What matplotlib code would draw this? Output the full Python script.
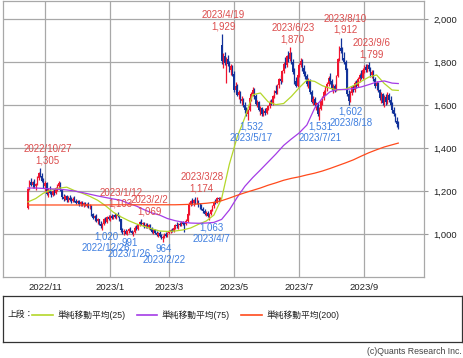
import matplotlib
matplotlib.use('Agg')
import matplotlib.pyplot as plt
import numpy as np
import pandas as pd

# 日足 2022/10/17 - 2023/10/4 (東証の休場日は除く)
holidays = ['2022-11-03', '2022-11-23', '2023-01-02', '2023-01-03', '2023-01-09',
            '2023-02-23', '2023-03-21', '2023-05-03', '2023-05-04', '2023-05-05',
            '2023-07-17', '2023-08-11', '2023-09-18']
dates = pd.bdate_range('2022-10-17', '2023-10-04', freq='C', holidays=holidays)

opens = [1121, 1215, 1240, 1228, 1240, 1222, 1235, 1262, 1280, 1270, 1248,
         1225, 1235, 1190, 1205, 1192, 1182, 1198, 1190, 1212, 1222, 1236, 1205, 1172, 1165, 1176, 1160, 1168, 1160, 1152, 1165,
         1155, 1145, 1152, 1138, 1148, 1135, 1142, 1132, 1140, 1128, 1130, 1092, 1075, 1085, 1060, 1068, 1048, 1038, 1045, 1068, 1058, 1078,
         1072, 1082, 1075, 1088, 1080, 1092, 1085, 1068, 1018, 1008, 1015, 1002, 1012, 1025, 1012, 1005, 1010, 1030, 1025,
         1045, 1055, 1048, 1052, 1036, 1044, 1034, 1040, 1026, 1010, 1018, 1004, 996, 1005, 990, 982, 988, 998, 992,
         1004, 1012, 1020, 1015, 1030, 1040, 1035, 1046, 1042, 1055, 1048, 1045, 1062, 1095, 1140, 1152, 1142, 1158, 1148, 1150, 1132, 1128,
         1115, 1105, 1095, 1100, 1085, 1092, 1112, 1128, 1150, 1145, 1168, 1165, 1880, 1805, 1830, 1795, 1815, 1790, 1765, 1780,
         1745, 1670, 1690, 1648, 1660, 1618, 1630, 1598, 1575, 1560, 1578, 1632, 1650, 1672, 1640, 1605, 1615, 1578, 1585, 1558,
         1570, 1565, 1585, 1595, 1615, 1605, 1640, 1665, 1658, 1695, 1720, 1712, 1760, 1792, 1785, 1828, 1812, 1842, 1800, 1755, 1712, 1690,
         1740, 1788, 1805, 1770, 1745, 1735, 1700, 1718, 1660, 1615, 1630, 1600, 1608, 1558, 1582, 1618, 1635, 1660, 1678, 1698,
         1728, 1710, 1680, 1690, 1668, 1735, 1812, 1865, 1850, 1820, 1800, 1765, 1650, 1618, 1658, 1682, 1668, 1702, 1690, 1722, 1740, 1728,
         1765, 1778, 1762, 1785, 1768, 1742, 1755, 1720, 1690, 1702, 1668, 1635, 1650, 1608, 1638, 1612, 1648, 1625, 1600, 1575,
         1560, 1528, 1510]
highs = [1216, 1250, 1262, 1248, 1255, 1238, 1270, 1290, 1305, 1282, 1260,
         1245, 1240, 1215, 1222, 1200, 1205, 1210, 1218, 1232, 1245, 1240, 1210, 1185, 1182, 1180, 1175, 1180, 1172, 1170, 1175,
         1165, 1160, 1158, 1152, 1155, 1148, 1150, 1145, 1148, 1138, 1135, 1100, 1090, 1092, 1075, 1072, 1060, 1050, 1075, 1080, 1082, 1090,
         1088, 1095, 1090, 1098, 1095, 1103, 1090, 1072, 1030, 1022, 1025, 1018, 1030, 1032, 1020, 1015, 1035, 1042, 1048,
         1060, 1069, 1058, 1056, 1050, 1052, 1045, 1046, 1032, 1025, 1022, 1015, 1010, 1012, 1002, 995, 1005, 1010, 1008,
         1018, 1025, 1030, 1035, 1045, 1056, 1050, 1058, 1060, 1062, 1055, 1068, 1100, 1148, 1160, 1168, 1165, 1170, 1174, 1158, 1145, 1140,
         1126, 1115, 1108, 1106, 1098, 1118, 1135, 1155, 1165, 1172, 1172, 1170, 1929, 1840, 1845, 1825, 1835, 1805, 1790, 1785,
         1760, 1705, 1700, 1672, 1665, 1640, 1635, 1615, 1590, 1582, 1640, 1660, 1682, 1679, 1650, 1625, 1620, 1595, 1590, 1580,
         1588, 1592, 1600, 1622, 1630, 1645, 1672, 1695, 1700, 1728, 1742, 1765, 1800, 1822, 1835, 1850, 1870, 1848, 1812, 1770, 1730, 1745,
         1795, 1819, 1812, 1785, 1760, 1745, 1728, 1722, 1670, 1640, 1638, 1615, 1612, 1590, 1625, 1640, 1668, 1688, 1705, 1735,
         1750, 1720, 1698, 1700, 1742, 1820, 1875, 1912, 1872, 1845, 1810, 1770, 1672, 1665, 1690, 1695, 1710, 1716, 1730, 1748, 1762, 1772,
         1785, 1792, 1790, 1799, 1775, 1765, 1762, 1730, 1712, 1708, 1675, 1660, 1655, 1645, 1650, 1660, 1658, 1640, 1612, 1590,
         1565, 1545, 1525]
lows = [1115, 1205, 1222, 1212, 1215, 1205, 1230, 1250, 1265, 1240, 1215,
        1200, 1180, 1172, 1185, 1170, 1175, 1182, 1185, 1200, 1215, 1200, 1165, 1155, 1158, 1150, 1148, 1155, 1145, 1148, 1150,
        1138, 1140, 1132, 1130, 1128, 1125, 1128, 1126, 1122, 1115, 1085, 1068, 1062, 1055, 1045, 1040, 1030, 1020, 1040, 1050, 1052, 1065,
        1062, 1070, 1068, 1075, 1072, 1078, 1062, 1010, 1000, 995, 998, 996, 1005, 1008, 998, 991, 1005, 1018, 1020,
        1038, 1040, 1035, 1030, 1028, 1030, 1025, 1020, 1005, 1002, 998, 992, 988, 985, 975, 964, 980, 985, 986,
        998, 1005, 1008, 1010, 1022, 1030, 1025, 1035, 1038, 1040, 1010, 1040, 1058, 1090, 1128, 1135, 1132, 1140, 1138, 1125, 1118, 1110,
        1098, 1090, 1082, 1078, 1063, 1088, 1105, 1120, 1140, 1142, 1150, 1155, 1790, 1770, 1785, 1702, 1780, 1755, 1742, 1735,
        1660, 1650, 1640, 1630, 1610, 1600, 1590, 1565, 1548, 1532, 1570, 1620, 1640, 1630, 1598, 1590, 1570, 1555, 1548, 1550,
        1555, 1560, 1575, 1588, 1598, 1600, 1632, 1650, 1652, 1680, 1700, 1708, 1750, 1770, 1778, 1800, 1805, 1790, 1745, 1700, 1684, 1685,
        1730, 1775, 1760, 1735, 1722, 1690, 1680, 1650, 1608, 1598, 1590, 1575, 1550, 1531, 1575, 1600, 1625, 1648, 1665, 1690,
        1700, 1672, 1658, 1660, 1665, 1730, 1805, 1840, 1810, 1790, 1755, 1640, 1602, 1612, 1645, 1660, 1662, 1680, 1685, 1705, 1720, 1722,
        1750, 1755, 1752, 1760, 1730, 1725, 1712, 1680, 1672, 1660, 1625, 1610, 1598, 1590, 1600, 1605, 1615, 1590, 1565, 1548,
        1520, 1500, 1488]
closes = [1210, 1240, 1228, 1242, 1220, 1232, 1262, 1285, 1272, 1248, 1222,
          1238, 1188, 1205, 1192, 1180, 1198, 1188, 1212, 1225, 1236, 1205, 1170, 1162, 1176, 1158, 1168, 1160, 1152, 1165, 1155,
          1145, 1152, 1138, 1148, 1135, 1142, 1132, 1140, 1128, 1132, 1092, 1075, 1085, 1060, 1068, 1048, 1038, 1045, 1070, 1058, 1078, 1072,
          1082, 1075, 1088, 1080, 1092, 1085, 1068, 1018, 1008, 1015, 1002, 1012, 1025, 1012, 1005, 1010, 1030, 1025, 1045,
          1055, 1048, 1052, 1036, 1044, 1034, 1040, 1026, 1010, 1018, 1004, 996, 1005, 990, 982, 988, 998, 992, 1004,
          1012, 1020, 1015, 1030, 1040, 1035, 1046, 1042, 1055, 1048, 1045, 1062, 1095, 1140, 1152, 1142, 1158, 1148, 1150, 1132, 1128, 1115,
          1105, 1095, 1100, 1085, 1092, 1112, 1128, 1150, 1145, 1168, 1165, 1168, 1805, 1830, 1795, 1815, 1790, 1765, 1780, 1745,
          1670, 1690, 1648, 1660, 1618, 1630, 1598, 1575, 1560, 1578, 1632, 1650, 1672, 1640, 1605, 1615, 1578, 1585, 1558, 1570,
          1565, 1585, 1595, 1615, 1605, 1640, 1665, 1658, 1695, 1720, 1712, 1760, 1792, 1785, 1828, 1812, 1842, 1800, 1755, 1712, 1690, 1740,
          1788, 1805, 1770, 1745, 1735, 1700, 1718, 1660, 1615, 1630, 1600, 1608, 1558, 1582, 1618, 1635, 1660, 1678, 1698, 1728,
          1710, 1680, 1690, 1668, 1735, 1812, 1865, 1850, 1820, 1800, 1765, 1650, 1618, 1658, 1682, 1668, 1702, 1690, 1722, 1740, 1728, 1765,
          1778, 1762, 1785, 1768, 1742, 1755, 1720, 1690, 1702, 1668, 1635, 1650, 1608, 1638, 1612, 1648, 1625, 1600, 1575, 1560,
          1528, 1510, 1495]

# 移動平均線 (チャートから5営業日ごとに読み取り)
ma_pos = list(range(0, 240, 5)) + [239]
ma25 = [1149, 1165, 1190, 1205, 1213, 1218, 1202, 1190, 1175, 1157, 1132, 1102, 1080, 1062, 1047, 1036,
        1024, 1014, 1012, 1014, 1019, 1028, 1045, 1060, 1088, 1165, 1325, 1450, 1542, 1648, 1656, 1615,
        1602, 1607, 1640, 1680, 1716, 1710, 1690, 1678, 1670, 1674, 1690, 1710, 1730, 1740, 1700, 1670, 1668]
ma75 = [1214, 1214, 1212, 1210, 1208, 1205, 1200, 1193, 1185, 1177, 1170, 1163, 1157, 1142, 1130, 1113,
        1098, 1088, 1072, 1062, 1055, 1051, 1050, 1051, 1054, 1068, 1112, 1170, 1222, 1262, 1298, 1335,
        1372, 1412, 1442, 1470, 1507, 1585, 1632, 1662, 1672, 1672, 1677, 1684, 1695, 1707, 1712, 1702, 1700]
ma200 = [1135, 1135, 1135, 1135, 1135, 1135, 1135, 1135, 1135, 1135, 1135, 1136, 1136, 1136, 1136, 1136,
         1136, 1136, 1136, 1136, 1137, 1138, 1140, 1143, 1147, 1155, 1167, 1180, 1192, 1203, 1214, 1227,
         1238, 1250, 1259, 1266, 1275, 1283, 1293, 1305, 1318, 1331, 1345, 1362, 1378, 1392, 1405, 1415, 1423]

peak_dates = ['2022-10-27', '2023-01-12', '2023-02-02', '2023-03-28', '2023-04-19',
              '2023-06-23', '2023-08-10', '2023-09-06']
trough_dates = ['2022-12-26', '2023-01-26', '2023-02-22', '2023-04-07', '2023-05-17',
                '2023-07-21', '2023-08-18']
month_ticks = ['2022-11', '2023-01', '2023-03', '2023-05', '2023-07', '2023-09']

RED = '#f01530'
BLUE = '#12329a'
plt.rcParams['font.family'] = ['Liberation Sans', 'Noto Sans CJK JP', 'DejaVu Sans']

df = pd.DataFrame({'o': opens, 'h': highs, 'l': lows, 'c': closes}, index=dates)
x = np.arange(len(df))

fig = plt.figure(figsize=(4.64, 3.58), dpi=100)
ax = fig.add_axes([3 / 464, 81 / 358, 421 / 464, 276 / 358])

# ローソク足 (赤=陽線, 青=陰線)
up = df['c'].values >= df['o'].values
col = np.where(up, RED, BLUE)
ax.vlines(x, df['l'], df['h'], colors=col, lw=0.9, zorder=3)
body = np.maximum(np.abs(df['c'] - df['o']).values, 2)
ax.bar(x, body, bottom=np.minimum(df['o'], df['c']).values, width=0.85,
       color=col, lw=0, zorder=3)

ax.plot(ma_pos, ma25, color='#b4d72a', lw=0.9, zorder=4)
ax.plot(ma_pos, ma75, color='#a43ce6', lw=0.9, zorder=4)
ax.plot(ma_pos, ma200, color='#ff4a1c', lw=0.9, zorder=4)

# 高値・安値ラベル (横方向の微調整はピクセル)
peak_dx = [7, 3, 8, 5, 2, 3, 4, 3]
trough_dx = [4, -4, 1, 2, 3, 1, 2]
for d, dx in zip(peak_dates, peak_dx):
    t = pd.Timestamp(d)
    i = df.index.get_loc(t)
    v = df['h'].iloc[i]
    ax.annotate(f'{t.year}/{t.month}/{t.day}\n{v:,}', xy=(i, v), xytext=(dx, 3),
                textcoords='offset pixels', ha='center', va='bottom', fontsize=7,
                color='#dc4c4c', linespacing=1.15, zorder=6)
for d, dx in zip(trough_dates, trough_dx):
    t = pd.Timestamp(d)
    i = df.index.get_loc(t)
    v = df['l'].iloc[i]
    ax.annotate(f'{v:,}\n{t.year}/{t.month}/{t.day}', xy=(i, v), xytext=(dx, -2),
                textcoords='offset pixels', ha='center', va='top', fontsize=7,
                color='#3f7fe0', linespacing=1.15, zorder=6)

ax.set_xlim(-16.1, 255.6)
ax.set_ylim(800, 2084)

tick_pos = [int(np.argmax(df.index.strftime('%Y-%m') == m)) for m in month_ticks]
ax.set_xticks(tick_pos)
ax.set_xticklabels([f'{df.index[p].year}/{df.index[p].month}' for p in tick_pos])
ax.set_yticks([1000, 1200, 1400, 1600, 1800, 2000])
ax.set_yticklabels([f'{v:,}' for v in [1000, 1200, 1400, 1600, 1800, 2000]])
ax.yaxis.tick_right()
ax.tick_params(axis='x', length=0, pad=4, labelsize=6.8, colors='#222222')
ax.tick_params(axis='y', length=3, width=0.8, pad=4, labelsize=6.8, colors='#999999',
               labelcolor='#222222')
ax.grid(True, color='#a8a8a8', lw=0.9)
ax.set_axisbelow(True)
for s in ax.spines.values():
    s.set_color('#a8a8a8')
    s.set_linewidth(0.9)

# 凡例
lg = fig.add_axes([3 / 464, 16 / 358, 459 / 464, 46 / 358])
lg.set_xlim(0, 1)
lg.set_ylim(0, 1)
lg.set_xticks([])
lg.set_yticks([])
for s in lg.spines.values():
    s.set_color('#333333')
    s.set_linewidth(0.9)
yy = 0.59
lg.text(0.009, yy, '上段：', fontsize=6.3, va='center', color='#222222')
items = [(0.063, 0.109, '#b4d72a', '単純移動平均(25)'),
         (0.292, 0.336, '#a43ce6', '単純移動平均(75)'),
         (0.518, 0.564, '#ff4a1c', '単純移動平均(200)')]
for x0, x1, c, name in items:
    lg.plot([x0, x1], [yy, yy], color=c, lw=1.2)
    lg.text(x1 + 0.01, yy, name, fontsize=6.3, va='center', color='#222222')

fig.text(462 / 464, 1 - 352 / 358, '(c)Quants Research Inc.', fontsize=6.3,
         ha='right', va='center', color='#444444')

fig.savefig('out.png', dpi=100)
